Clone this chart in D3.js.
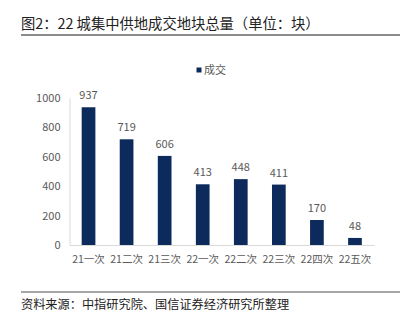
<!DOCTYPE html>
<html><head><meta charset="utf-8">
<script src="https://cdn.jsdelivr.net/npm/d3@7"></script>
<style>
body{margin:0;background:#fff;}
text{font-family:"Noto Sans CJK SC","Noto Sans",sans-serif;}
</style></head>
<body><svg id="c" width="405" height="323"></svg>
<script>
const categories = ["21一次","21二次","21三次","22一次","22二次","22三次","22四次","22五次"];
const values = [937,719,606,413,448,411,170,48];
const yTicks = [0,200,400,600,800,1000];
const seriesName = "成交";
const title = "图2：22 城集中供地成交地块总量（单位：块）";
const source = "资料来源：中指研究院、国信证券经济研究所整理";

const svg = d3.select("#c");
const barColor = "#0C2A5B", textColor = "#595959", axisColor = "#D9D9D9";

svg.append("text").attr("x",21).attr("y",29).attr("font-size",14.3).attr("fill","#222").text(title);
svg.append("line").attr("x1",21).attr("x2",400).attr("y1",35).attr("y2",35).attr("stroke","#666").attr("stroke-width",1.3);

const x = d3.scaleBand().domain(categories).range([69.5,374]).paddingInner(0.64).paddingOuter(0.32);
const y = d3.scaleLinear().domain([0,1000]).range([245,98]);

// legend
svg.append("rect").attr("x",196.5).attr("y",67.5).attr("width",5).attr("height",5).attr("fill",barColor);
svg.append("text").attr("x",204).attr("y",74).attr("font-size",11).attr("fill",textColor).text(seriesName);

// y axis
const ya = svg.append("g").attr("transform","translate(69.5,0)")
  .call(d3.axisLeft(y).tickValues(yTicks).tickFormat(d3.format("d")).tickSize(0).tickPadding(9));
ya.select(".domain").attr("stroke",axisColor);
ya.selectAll("text").attr("font-size",11).attr("fill",textColor).attr("font-family","Liberation Sans, Arial, sans-serif");

// x axis
const xa = svg.append("g").attr("transform","translate(0,245)")
  .call(d3.axisBottom(x).tickSize(0).tickPadding(11));
xa.select(".domain").attr("stroke",axisColor);
xa.selectAll("text").attr("font-size",10.5).attr("fill",textColor);

svg.selectAll("rect.bar").data(values).join("rect").attr("class","bar")
  .attr("x",(d,i)=>x(categories[i])).attr("width",x.bandwidth())
  .attr("y",d=>y(d)).attr("height",d=>y(0)-y(d)).attr("fill",barColor);

svg.selectAll("text.lbl").data(values).join("text").attr("class","lbl")
  .attr("x",(d,i)=>x(categories[i])+x.bandwidth()/2).attr("y",d=>y(d)-8)
  .attr("text-anchor","middle").attr("font-size",11).attr("fill",textColor)
  .attr("font-family","Liberation Sans, Arial, sans-serif").text(d=>d);

svg.append("line").attr("x1",21).attr("x2",400).attr("y1",292).attr("y2",292).attr("stroke","#888").attr("stroke-width",1.3);
svg.append("text").attr("x",21).attr("y",309).attr("font-size",12.2).attr("fill","#222").text(source);
</script></body></html>
